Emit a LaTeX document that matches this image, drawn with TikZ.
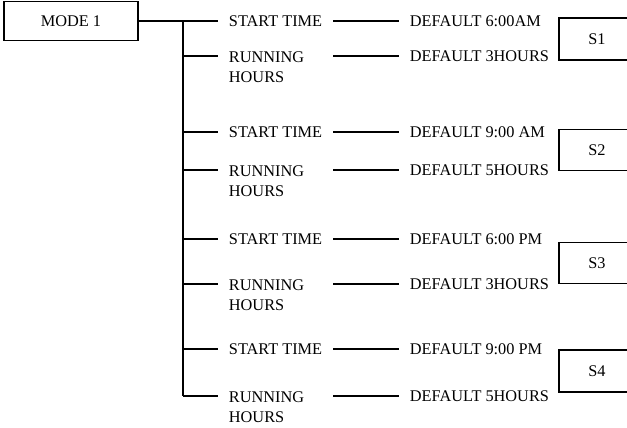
\documentclass[tikz,border=0pt]{standalone}
\usepackage{fontspec}
\setmainfont{Liberation Serif}
\usetikzlibrary{calc}

\begin{document}
\begin{tikzpicture}[x=1pt, y=-1pt, line width=1.9pt,
		every node/.style={font=\fontsize{16.3}{20}\selectfont},
		box/.style={draw, line width=1.9pt, inner sep=0pt},
		txt/.style={inner xsep=10pt, inner ysep=0pt, anchor=west},
		twoline/.style={inner xsep=10pt, inner ysep=0pt, anchor=north west, align=left}]
			%%%%% START %%%%%
			\useasboundingbox (0, 0) rectangle (627, 428);
			
			\node[box, minimum width=134pt, minimum height=39pt] (mode) at (71, 21) {MODE 1};
			
			%% S1
			\node[txt] (st1) at (218, 21) {START TIME};
			\node[twoline] (rh1) at (218, 50.5) {RUNNING\\HOURS};
			\coordinate (b1) at (183, 56);
			\node[txt] (df1) at (399, 21) {DEFAULT 6:00AM};
			\node[txt] (dr1) at (399, 56) {DEFAULT 3HOURS};
			\node[box, minimum width=76pt, minimum height=42pt] (s1) at (597, 39) {S1};
			
			%% S2
			\node[txt] (st2) at (218, 132) {START TIME};
			\node[twoline] (rh2) at (218, 164.5) {RUNNING\\HOURS};
			\coordinate (a2) at (183, 132);
			\coordinate (b2) at (183, 170);
			\node[txt] (df2) at (399, 132) {DEFAULT 9:00 AM};
			\node[txt] (dr2) at (399, 170) {DEFAULT 5HOURS};
			\node[box, minimum width=76pt, minimum height=41pt] (s2) at (597, 150) {S2};
			
			%% S3
			\node[txt] (st3) at (218, 239) {START TIME};
			\node[twoline] (rh3) at (218, 278.5) {RUNNING\\HOURS};
			\coordinate (a3) at (183, 239);
			\coordinate (b3) at (183, 284);
			\node[txt] (df3) at (399, 239) {DEFAULT 6:00 PM};
			\node[txt] (dr3) at (399, 284) {DEFAULT 3HOURS};
			\node[box, minimum width=76pt, minimum height=41pt] (s3) at (597, 263) {S3};
			
			%% S4
			\node[txt] (st4) at (218, 349) {START TIME};
			\node[twoline] (rh4) at (218, 390.5) {RUNNING\\HOURS};
			\coordinate (a4) at (183, 349);
			\coordinate (b4) at (183, 396);
			\node[txt] (df4) at (399, 349) {DEFAULT 9:00 PM};
			\node[txt] (dr4) at (399, 396) {DEFAULT 5HOURS};
			\node[box, minimum width=76pt, minimum height=42pt] (s4) at (597, 371) {S4};
			
			%% tree
			\draw (mode.east) -- (st1.west);
			\draw (b1 |- st1.west) -- (b4);
			\draw (b1) -- (b1 -| rh1.west);
			\draw (a2) -- (st2.west);
			\draw (b2) -- (b2 -| rh2.west);
			\draw (a3) -- (st3.west);
			\draw (b3) -- (b3 -| rh3.west);
			\draw (a4) -- (st4.west);
			\draw (b4) -- (b4 -| rh4.west);
			
			%% defaults
			\draw (st1.east) -- (df1.west);
			\draw (st1.east |- dr1.west) -- (dr1.west);
			\draw (st2.east) -- (df2.west);
			\draw (st2.east |- dr2.west) -- (dr2.west);
			\draw (st3.east) -- (df3.west);
			\draw (st3.east |- dr3.west) -- (dr3.west);
			\draw (st4.east) -- (df4.west);
			\draw (st4.east |- dr4.west) -- (dr4.west);
			
			%%%%% END %%%%%
		\end{tikzpicture}
\end{document}
